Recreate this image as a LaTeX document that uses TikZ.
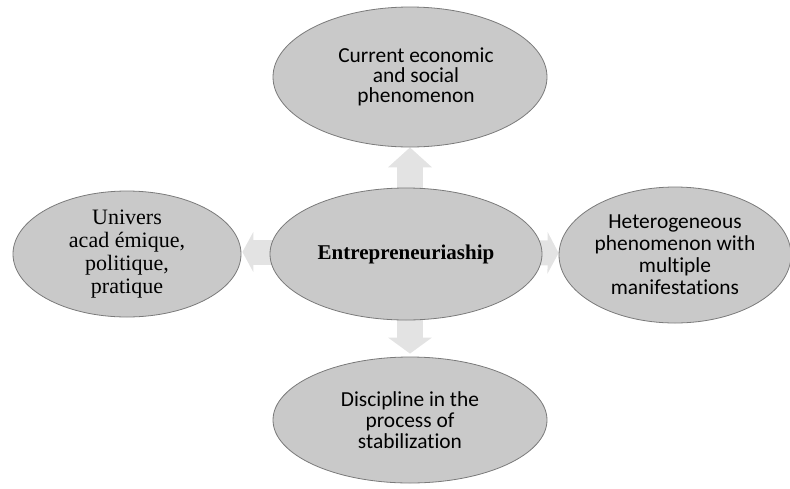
\documentclass[tikz,border=0pt]{standalone}
\usepackage{fontspec}
\setmainfont{Liberation Serif}
\newfontfamily\calib[Ligatures=NoCommon]{Carlito}
\usetikzlibrary{shapes.geometric,arrows.meta,backgrounds}
\definecolor{ellfill}{HTML}{C9C9C9}
\definecolor{ellline}{HTML}{7A7A7A}
\definecolor{arrfill}{HTML}{E3E3E3}
\begin{document}
\begin{tikzpicture}[x=1pt,y=-1pt,
  ell/.style={ellipse, draw=ellline, line width=0.8pt, fill=ellfill, inner sep=0pt, align=center, text=black},
  timestext/.style={font=\fontsize{22}{23}\selectfont},
  blockarr/.style={draw=arrfill, line width=26pt}]
\useasboundingbox (0,0) rectangle (790,488);
\node[ell, minimum width=272pt, minimum height=132pt, font=\bfseries\fontsize{21}{23}\selectfont] (c) at (406,254) {Entrepreneuriaship};
\node[ell, font=\calib\fontsize{21.4}{20}\selectfont, minimum width=274pt, minimum height=140pt] (top) at (410,77) {\hspace*{12pt}Current economic\\\hspace*{12pt}and social\\\hspace*{12pt}phenomenon};
\node[ell, timestext, minimum width=228pt, minimum height=126pt] (left) at (127,254) {Univers\\acad émique,\\politique,\\pratique};
\node[ell, font=\calib\fontsize{21.4}{22}\selectfont, minimum width=232pt, minimum height=136pt] (right) at (675,255) {Heterogeneous\\phenomenon with\\multiple\\manifestations};
\node[ell, font=\calib\fontsize{21.4}{21}\selectfont, minimum width=274pt, minimum height=126pt] (bottom) at (410,420) {Discipline in the\\process of\\stabilization};
\begin{scope}[on background layer]
  \draw[blockarr, -{Triangle[width=43pt,length=20pt]}] ([xshift=4pt]c.center) -- (top.south);
  \draw[blockarr, -{Triangle[width=43pt,length=16pt]}] ([xshift=4pt]c.center) -- ([yshift=3pt]bottom.north);
  \draw[blockarr, line width=25pt, -{Triangle[width=40pt,length=11pt]}] ([yshift=2pt]c.center) -- ([xshift=1pt,yshift=2pt]left.east);
  \draw[blockarr, line width=25pt, -{Triangle[width=41pt,length=11pt]}] ([yshift=2pt]c.center) -- ([yshift=2pt]right.west);
\end{scope}
\end{tikzpicture}
\end{document}
